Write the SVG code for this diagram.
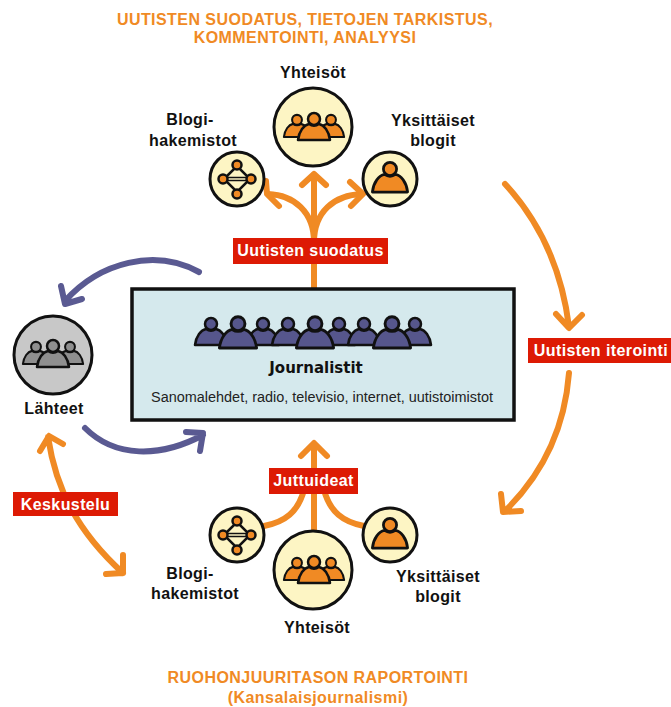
<svg xmlns="http://www.w3.org/2000/svg" width="671" height="707" viewBox="0 0 671 707">
<style>
text{font-family:"Liberation Sans",Arial,sans-serif;text-anchor:middle}
.l{font-weight:700;font-size:16px;fill:#111;letter-spacing:.35px}
.h{font-weight:700;font-size:16px;fill:#f08a24;letter-spacing:.45px}
.r{font-weight:700;font-size:16px;fill:#fff;letter-spacing:.4px}
.tag{fill:#dd1a04}
.o{fill:none;stroke:#f08a24;stroke-width:6;stroke-linecap:round;stroke-linejoin:round}
.b{fill:none;stroke:#5a5a92;stroke-width:6;stroke-linecap:round;stroke-linejoin:round}
.c{fill:#fdf5c4;stroke:#111;stroke-width:3}
.po{fill:#f08a24;stroke:#111;stroke-width:2.5;stroke-linejoin:round}
.pb{fill:#56568c;stroke:#111;stroke-width:2.5;stroke-linejoin:round}
.pg{fill:#8f8f8f;stroke:#111;stroke-width:2.5;stroke-linejoin:round}
</style>
<defs>
<g id="person"><circle cx="0" cy="-21" r="6"/><path d="M-16 0C-15-9-10-15-5-16C-2-14 2-14 5-16C10-15 15-9 16 0Z"/></g>
<g id="group"><use href="#person" transform="translate(-17,11) scale(.82)"/><use href="#person" transform="translate(17,11) scale(.82)"/><use href="#person" transform="translate(0,14)"/></g>
<g id="net"><path d="M-13 0L0-13L13 0L0 13Z" fill="none" stroke="#111" stroke-width="2.5"/><path d="M-13-1.500H13M-13 1.500H13" stroke="#111" stroke-width="1.500"/>
<g class="po"><circle cx="0" cy="-14" r="4.500"/><circle cx="0" cy="15" r="4.500"/><circle cx="-14" cy="0" r="4.500"/><circle cx="14" cy="0" r="4.500"/></g></g>
</defs>
<g id="connectors">
<path class="o" d="M314 288V242M314 238V175M314 242C314 212 294 195 268 194M314 242C314 212 334 195 362 194"/>
<path class="o" d="M266 181L267 194L279 206M302 185L314 174L326 185M350 182L363 194L351 206"/>
<path class="b" d="M199 272C155 248 100 262 65 301M61 286L65 304L82 299"/>
<path class="b" d="M85 428C115 458 160 458 203 435M186 432L203 433L200 451"/>
<path class="o" d="M505 184C540 222 562 270 569 327M556 314L569 328L582 315"/>
<path class="o" d="M569 373C565 425 545 472 505 511M501 494L503 512L521 511"/>
<path class="o" d="M48 437C56 490 78 532 123 573M49 436L40 451M49 436L63 444M123 573L106 574M123 573L123 555"/>
<path class="o" d="M314 530V444M301 456L314 443L327 456"/>
<path class="o" d="M264 526C285 522 298 512 304 490M364 526C343 522 330 512 324 490"/>
</g>
<g id="uutisten-suodatus-label"><rect class="tag" x="233" y="238" width="155" height="26"/><text class="r" x="310.500" y="256">Uutisten suodatus</text></g>
<g id="uutisten-iterointi-label"><rect class="tag" x="528" y="338" width="143" height="25"/><text class="r" x="601" y="356">Uutisten iterointi</text></g>
<g id="keskustelu-label"><rect class="tag" x="13" y="492" width="105" height="24"/><text class="r" x="65.500" y="510">Keskustelu</text></g>
<g id="juttuideat-label"><rect class="tag" x="269" y="468" width="89" height="26"/><text class="r" x="313.500" y="486">Juttuideat</text></g>
<g id="top-heading"><text class="h" x="305" y="25">UUTISTEN SUODATUS, TIETOJEN TARKISTUS,</text><text class="h" x="305" y="43">KOMMENTOINTI, ANALYYSI</text></g>
<g id="top-yhteisot"><circle class="c" cx="313" cy="127" r="39"/><use href="#group" class="po" transform="translate(314,126)"/><text class="l" x="313" y="78">Yhteisöt</text></g>
<g id="top-blogihakemistot"><circle class="c" cx="237" cy="179" r="27"/><use href="#net" transform="translate(237,179)"/><text class="l" x="190" y="125">Blogi-</text><text class="l" x="193" y="146">hakemistot</text></g>
<g id="top-yksittaiset"><circle class="c" cx="390" cy="179" r="27"/><use href="#person" class="po" transform="translate(390,192) scale(1.1)"/><text class="l" x="433" y="126">Yksittäiset</text><text class="l" x="433" y="146">blogit</text></g>
<g id="journalistit"><rect x="132" y="289" width="382" height="131" fill="#d5e9ed" stroke="#111" stroke-width="3.500"/>
<g class="pb"><use href="#person" transform="translate(211,345)"/><use href="#person" transform="translate(263,345)"/><use href="#person" transform="translate(288,345)"/><use href="#person" transform="translate(339,345)"/><use href="#person" transform="translate(364,345)"/><use href="#person" transform="translate(415,345)"/><use href="#person" transform="translate(238,348) scale(1.16)"/><use href="#person" transform="translate(315,348) scale(1.16)"/><use href="#person" transform="translate(392,348) scale(1.16)"/></g>
<text x="316" y="373" style="font-family:'DejaVu Sans',sans-serif;font-weight:700;font-size:15px" fill="#111">Journalistit</text>
<text x="322" y="402" font-size="15.500" fill="#222" textLength="342" lengthAdjust="spacingAndGlyphs">Sanomalehdet, radio, televisio, internet, uutistoimistot</text></g>
<g id="lahteet"><circle cx="53" cy="355" r="39" fill="#c8c8c8" stroke="#111" stroke-width="3"/><use href="#group" class="pg" transform="translate(53,353)"/><text class="l" x="54" y="414">Lähteet</text></g>
<g id="bottom-blogihakemistot"><circle class="c" cx="237" cy="535" r="27"/><use href="#net" transform="translate(237,535)"/><text class="l" x="190" y="579">Blogi-</text><text class="l" x="195" y="599">hakemistot</text></g>
<g id="bottom-yhteisot"><circle class="c" cx="313" cy="570" r="39"/><use href="#group" class="po" transform="translate(314,569)"/><text class="l" x="317" y="633">Yhteisöt</text></g>
<g id="bottom-yksittaiset"><circle class="c" cx="390" cy="535" r="27"/><use href="#person" class="po" transform="translate(390,548) scale(1.1)"/><text class="l" x="438" y="582">Yksittäiset</text><text class="l" x="438" y="602">blogit</text></g>
<g id="bottom-heading"><text class="h" x="318" y="683">RUOHONJUURITASON RAPORTOINTI</text><text class="h" x="318" y="703">(Kansalaisjournalismi)</text></g>
</svg>
